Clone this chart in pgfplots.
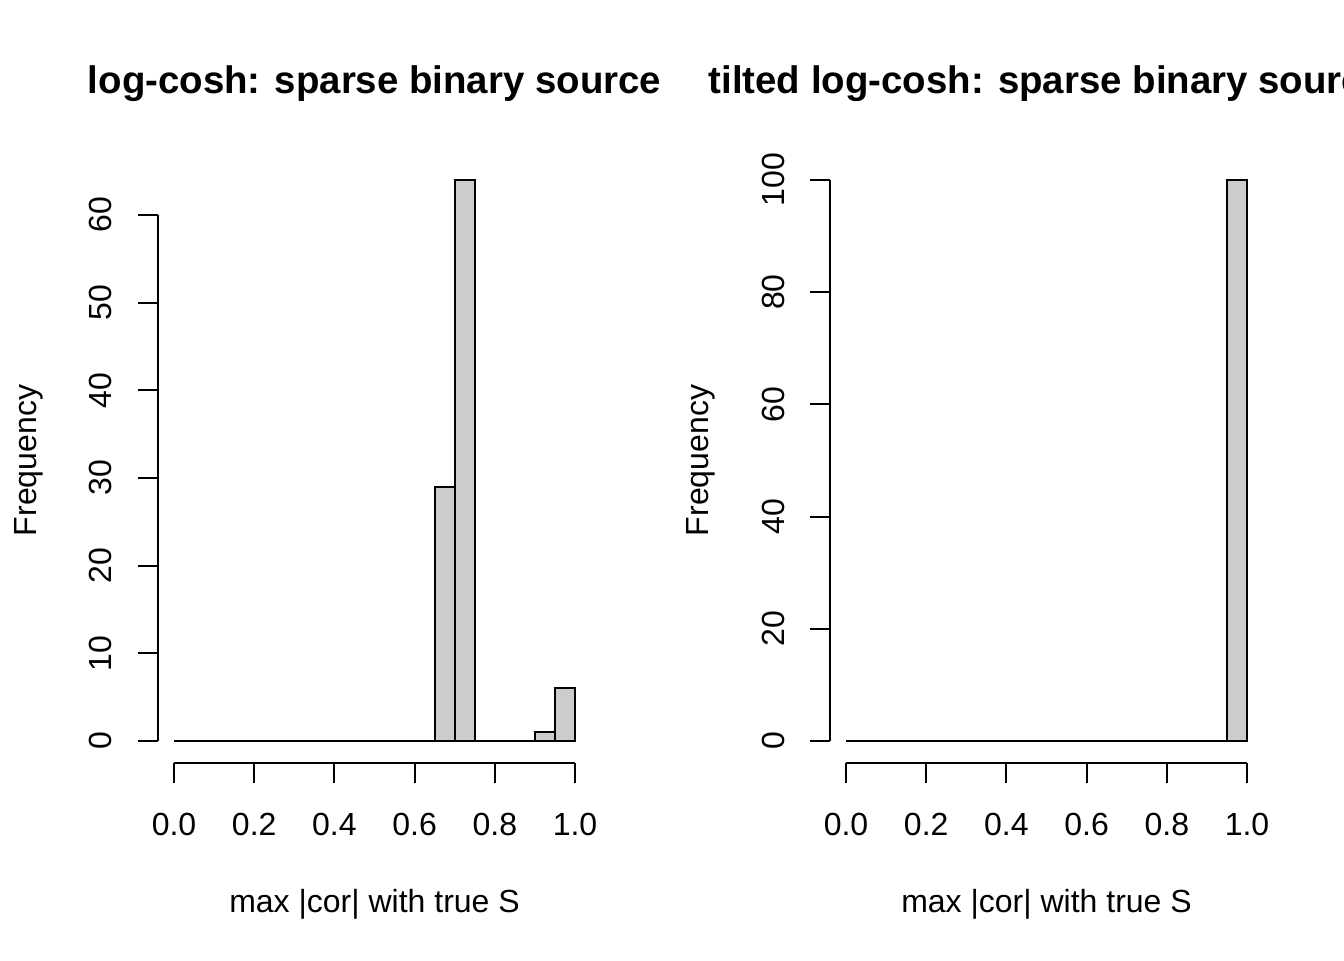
\documentclass[border=0pt]{standalone}
\usepackage{fontspec}
\setmainfont{Liberation Sans}
\usepackage{pgfplots}
\pgfplotsset{compat=1.18}
\definecolor{bargray}{gray}{0.8}
\newcommand\rf{\fontsize{12}{14.4}\selectfont}
\newcommand\tf{\fontsize{14.4}{17}\selectfont\bfseries}
\pgfplotsset{
  rhist/.style={
    scale only axis, width=162.4pt, height=227.3pt,
    anchor=south west, clip=false,
    xmin=-0.04, xmax=1.04,
    axis x line*=bottom, axis y line*=left,
    axis line style={draw=none},
    tick align=outside, major tick length=7.5pt,
    tick style={black, line width=0.75pt},
    xtick={0,0.2,0.4,0.6,0.8,1.0},
    xticklabels={0.0,0.2,0.4,0.6,0.8,1.0},
    xticklabel style={font=\rf, anchor=base, inner sep=0pt, yshift=-19.5pt},
    yticklabel style={font=\rf, xshift=-9.75pt, rotate=90, anchor=base, inner sep=0pt},
  },
  hbar/.style={ybar interval, fill=bargray, draw=black, line width=0.75pt},
}
\begin{document}
\begin{tikzpicture}
\useasboundingbox (0,0) rectangle (504pt,360pt);
\clip (0,0) rectangle (504pt,360pt);
\begin{axis}[rhist, at={(59.25pt,73.7pt)},
  ymin=-2.56, ymax=66.56,
  ytick={0,10,20,30,40,50,60}, yticklabels={0,10,20,30,40,50,60}]
\addplot[hbar] coordinates {
(0.00,0) (0.05,0) (0.10,0) (0.15,0) (0.20,0) (0.25,0) (0.30,0) (0.35,0)
(0.40,0) (0.45,0) (0.50,0) (0.55,0) (0.60,0) (0.65,29) (0.70,64) (0.75,0)
(0.80,0) (0.85,0) (0.90,1) (0.95,6) (1.00,0)};
\draw[line width=0.75pt] (axis cs:0,-2.56) -- (axis cs:1,-2.56);
\draw[line width=0.75pt] (axis cs:-0.04,0) -- (axis cs:-0.04,60);
\node[font=\tf, anchor=base] at ([yshift=24pt]rel axis cs:0.5,1) {log-cosh: sparse binary source};
\node[font=\rf, anchor=base] at ([yshift=-55.9pt]rel axis cs:0.5,0) {max |cor| with true S};
\node[font=\rf, anchor=base, rotate=90] at ([xshift=-45.4pt]rel axis cs:0,0.5) {Frequency};
\end{axis}
\begin{axis}[rhist, at={(311.25pt,73.7pt)},
  ymin=-4, ymax=104,
  ytick={0,20,40,60,80,100}, yticklabels={0,20,40,60,80,100}]
\addplot[hbar] coordinates {
(0.00,0) (0.05,0) (0.10,0) (0.15,0) (0.20,0) (0.25,0) (0.30,0) (0.35,0)
(0.40,0) (0.45,0) (0.50,0) (0.55,0) (0.60,0) (0.65,0) (0.70,0) (0.75,0)
(0.80,0) (0.85,0) (0.90,0) (0.95,100) (1.00,0)};
\draw[line width=0.75pt] (axis cs:0,-4) -- (axis cs:1,-4);
\draw[line width=0.75pt] (axis cs:-0.04,0) -- (axis cs:-0.04,100);
\node[font=\tf, anchor=base] at ([yshift=24pt]rel axis cs:0.5,1) {tilted log-cosh: sparse binary source};
\node[font=\rf, anchor=base] at ([yshift=-55.9pt]rel axis cs:0.5,0) {max |cor| with true S};
\node[font=\rf, anchor=base, rotate=90] at ([xshift=-45.4pt]rel axis cs:0,0.5) {Frequency};
\end{axis}
\end{tikzpicture}
\end{document}
